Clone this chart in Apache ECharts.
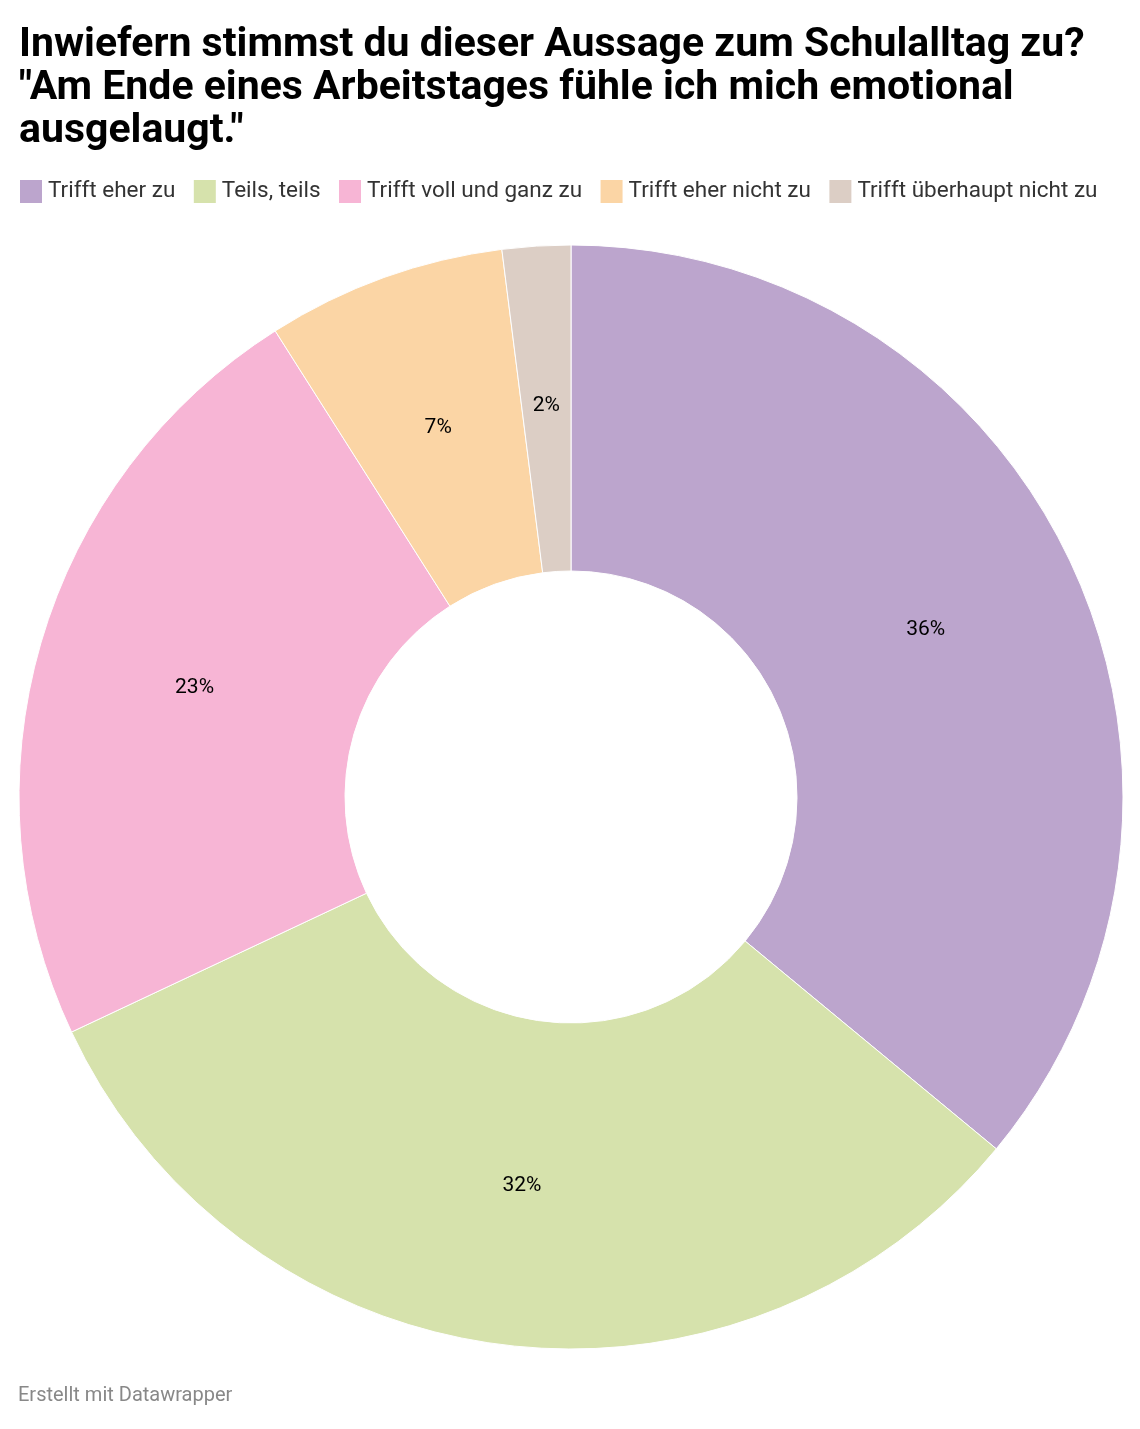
<!DOCTYPE html>
<html>
<head>
<meta charset="utf-8">
<script src="https://cdn.jsdelivr.net/npm/echarts@6/dist/echarts.min.js"></script>
<style>
  html, body { margin: 0; padding: 0; background: #fff; }
  #chart { width: 1140px; height: 1429px; }
</style>
</head>
<body>
<div id="chart"></div>
<script>
var categories = ['Trifft eher zu', 'Teils, teils', 'Trifft voll und ganz zu', 'Trifft eher nicht zu', 'Trifft überhaupt nicht zu'];
var shares = [36, 32, 23, 7, 2];
var colors = ['#bca5cd', '#d6e2ac', '#f7b5d5', '#fbd5a5', '#dccec5'];

var chartDom = document.getElementById('chart');
var myChart = echarts.init(chartDom);
var option;

option = {
  backgroundColor: '#fff',
  animation: false,
  color: colors,
  title: {
    left: 14,
    top: 19,
    text: 'Inwiefern stimmst du dieser Aussage zum Schulalltag zu?\n"Am Ende eines Arbeitstages fühle ich mich emotional\nausgelaugt."',
    textStyle: {
      fontFamily: 'Roboto',
      fontSize: 41,
      fontWeight: 'bold',
      lineHeight: 43,
      color: '#000'
    }
  },
  legend: {
    left: 13,
    top: 173,
    icon: 'rect',
    itemWidth: 24,
    itemHeight: 25,
    itemGap: 16.5,
    data: categories,
    textStyle: {
      fontFamily: 'Roboto',
      fontSize: 22.5,
      color: '#333'
    }
  },
  graphic: [
    {
      type: 'text',
      left: 18,
      top: 1386,
      style: {
        text: 'Erstellt mit Datawrapper',
        fontFamily: 'Roboto',
        fontSize: 20,
        fill: '#888'
      }
    }
  ],
  series: [
    {
      type: 'pie',
      center: [571, 797],
      radius: [226, 552],
      startAngle: 90,
      clockwise: true,
      itemStyle: {
        borderColor: '#fff',
        borderWidth: 1
      },
      label: {
        position: 'inside',
        formatter: '{c}%',
        fontFamily: 'Roboto',
        fontSize: 21,
        color: '#000'
      },
      emphasis: { disabled: true },
      data: categories.map(function (name, i) {
        return { name: name, value: shares[i] };
      })
    }
  ]
};

option && myChart.setOption(option);
</script>
</body>
</html>
